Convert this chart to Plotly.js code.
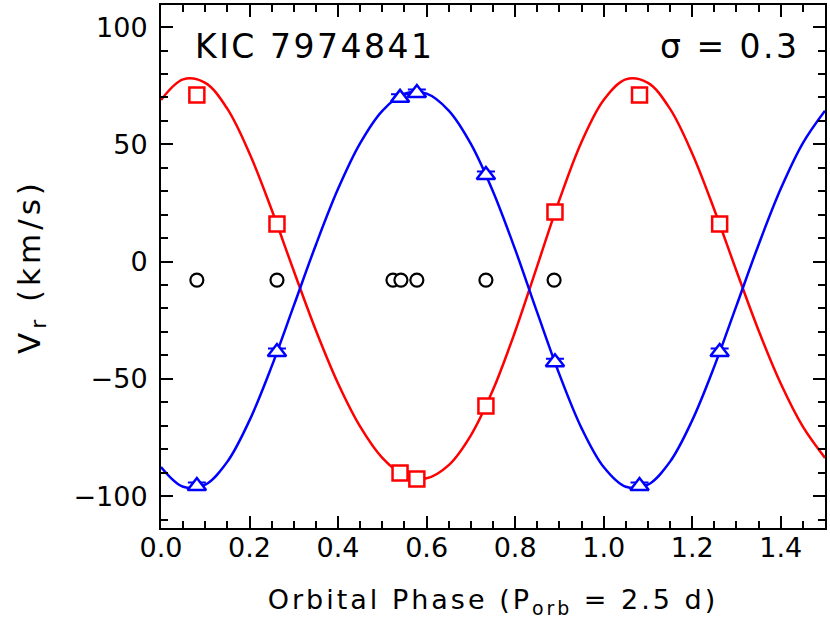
<!DOCTYPE html>
<html>
<head>
<meta charset="utf-8">
<script src="https://cdn.plot.ly/plotly-3.0.1.min.js"></script>
<style>
html,body{margin:0;padding:0;background:#fff;}
#chart{width:830px;height:625px;}
.xtitle{letter-spacing:3px;}
.ytitle{letter-spacing:4px;}
.annotation-text{letter-spacing:2.5px;}
</style>
</head>
<body>
<div id="chart"></div>
<script>
// Observed phases and radial velocities (km/s)
const phasePrimary = [0.081, 0.262, 0.540, 0.578, 0.734, 0.890, 1.081, 1.262];
const vPrimary     = [71.0, 16.0, -90.2, -92.7, -61.6, 21.1, 71.0, 16.0];
const phaseSecondary = [0.081, 0.262, 0.540, 0.578, 0.734, 0.890, 1.081, 1.262];
const vSecondary     = [-95.7, -38.6, 69.8, 71.9, 36.9, -42.9, -95.7, -38.6];
const errSecondary   = [1.5, 1.5, 1.5, 1.5, 1.5, 1.5, 1.5, 1.5];
const phaseSingle = [0.081, 0.262, 0.524, 0.542, 0.578, 0.734, 0.888];
const vSingle     = [-7.9, -7.9, -7.9, -7.9, -7.9, -7.9, -7.9];

// Fitted orbit curves
const phaseFit = [0.00,0.05,0.10,0.15,0.20,0.25,0.30,0.35,0.40,0.45,0.50,0.55,0.60,0.65,0.70,0.75,0.80,0.85,0.90,0.95,
                  1.00,1.05,1.10,1.15,1.20,1.25,1.30,1.35,1.40,1.45,1.50];
const vFitPrimary = [68.9,77.7,76.2,65.1,46.1,22.1,-4.0,-29.4,-52.0,-70.4,-83.7,-91.2,-92.4,-86.8,-74.1,-54.7,-29.8,-1.8,26.3,51.0,
                     68.9,77.7,76.2,65.1,46.1,22.1,-4.0,-29.4,-52.0,-70.4,-83.7];
const vFitSecondary = [-87.6,-96.0,-95.1,-85.3,-67.7,-44.7,-18.8,7.2,31.0,50.5,64.3,71.6,71.6,64.4,50.2,29.9,5.2,-21.8,-48.1,-71.0,
                       -87.6,-96.0,-95.1,-85.3,-67.7,-44.7,-18.8,7.2,31.0,50.5,64.3];

const xTickVals = [0.0,0.2,0.4,0.6,0.8,1.0,1.2,1.4];
const yTickVals = [-100,-50,0,50,100];

const FONT = "DejaVu Sans, sans-serif";

const traces = [
  {x: phaseFit, y: vFitPrimary, mode:'lines', line:{color:'#ff0000', width:2.5, shape:'spline', smoothing:1}, hoverinfo:'skip'},
  {x: phaseFit, y: vFitSecondary, mode:'lines', line:{color:'#0000ff', width:2.5, shape:'spline', smoothing:1}, hoverinfo:'skip'},
  {x: phaseSingle, y: vSingle, mode:'markers', marker:{symbol:'circle', size:13, color:'#ffffff', line:{width:2.2, color:'#000000'}}},
  {x: phasePrimary, y: vPrimary, mode:'markers', marker:{symbol:'square', size:15, color:'#ffffff', line:{width:2.5, color:'#ff0000'}}},
  {x: phaseSecondary, y: vSecondary, mode:'markers',
   error_y:{type:'data', array:errSecondary, visible:true, color:'#0000ff', thickness:2, width:9},
   marker:{symbol:'triangle-up', size:16, color:'#ffffff', line:{width:2.5, color:'#0000ff'}}}
];

const axisCommon = {
  showline:true, linecolor:'#000', linewidth:2, mirror:'ticks',
  ticks:'inside', ticklen:12, tickwidth:2, tickcolor:'#000',
  showgrid:false, zeroline:false,
  tickfont:{family:FONT, size:27, color:'#000'}
};

const layout = {
  width:830, height:625,
  margin:{l:161, r:5, t:5, b:97},
  paper_bgcolor:'#fff', plot_bgcolor:'#fff',
  showlegend:false,
  xaxis: Object.assign({}, axisCommon, {
    range:[0,1.5], tickvals:xTickVals, tickformat:'.1f', ticklabelstandoff:-5,
    minor:{dtick:0.05, ticklen:7, tickwidth:2, tickcolor:'#000', ticks:'inside'},
    title:{text:'Orbital Phase (P<sub>orb</sub> = 2.5 d)', font:{family:FONT, size:27, color:'#000'}, standoff:28}
  }),
  yaxis: Object.assign({}, axisCommon, {
    range:[-113.6,109.4], tickvals:yTickVals, ticklabelstandoff:6,
    minor:{dtick:10, ticklen:7, tickwidth:2, tickcolor:'#000', ticks:'inside'},
    title:{text:'V<sub>r</sub> (km/s)', font:{family:FONT, size:31, color:'#000'}, standoff:24}
  }),
  annotations:[
    {xref:'paper', yref:'paper', x:0.048, y:0.92, xanchor:'left', yanchor:'middle', showarrow:false,
     text:'KIC 7974841', font:{family:FONT, size:33, color:'#000'}},
    {xref:'paper', yref:'paper', x:0.965, y:0.92, xanchor:'right', yanchor:'middle', showarrow:false,
     text:'σ = 0.3', font:{family:FONT, size:33, color:'#000'}}
  ]
};

Plotly.newPlot('chart', traces, layout, {staticPlot:true, displayModeBar:false});
</script>
</body>
</html>
